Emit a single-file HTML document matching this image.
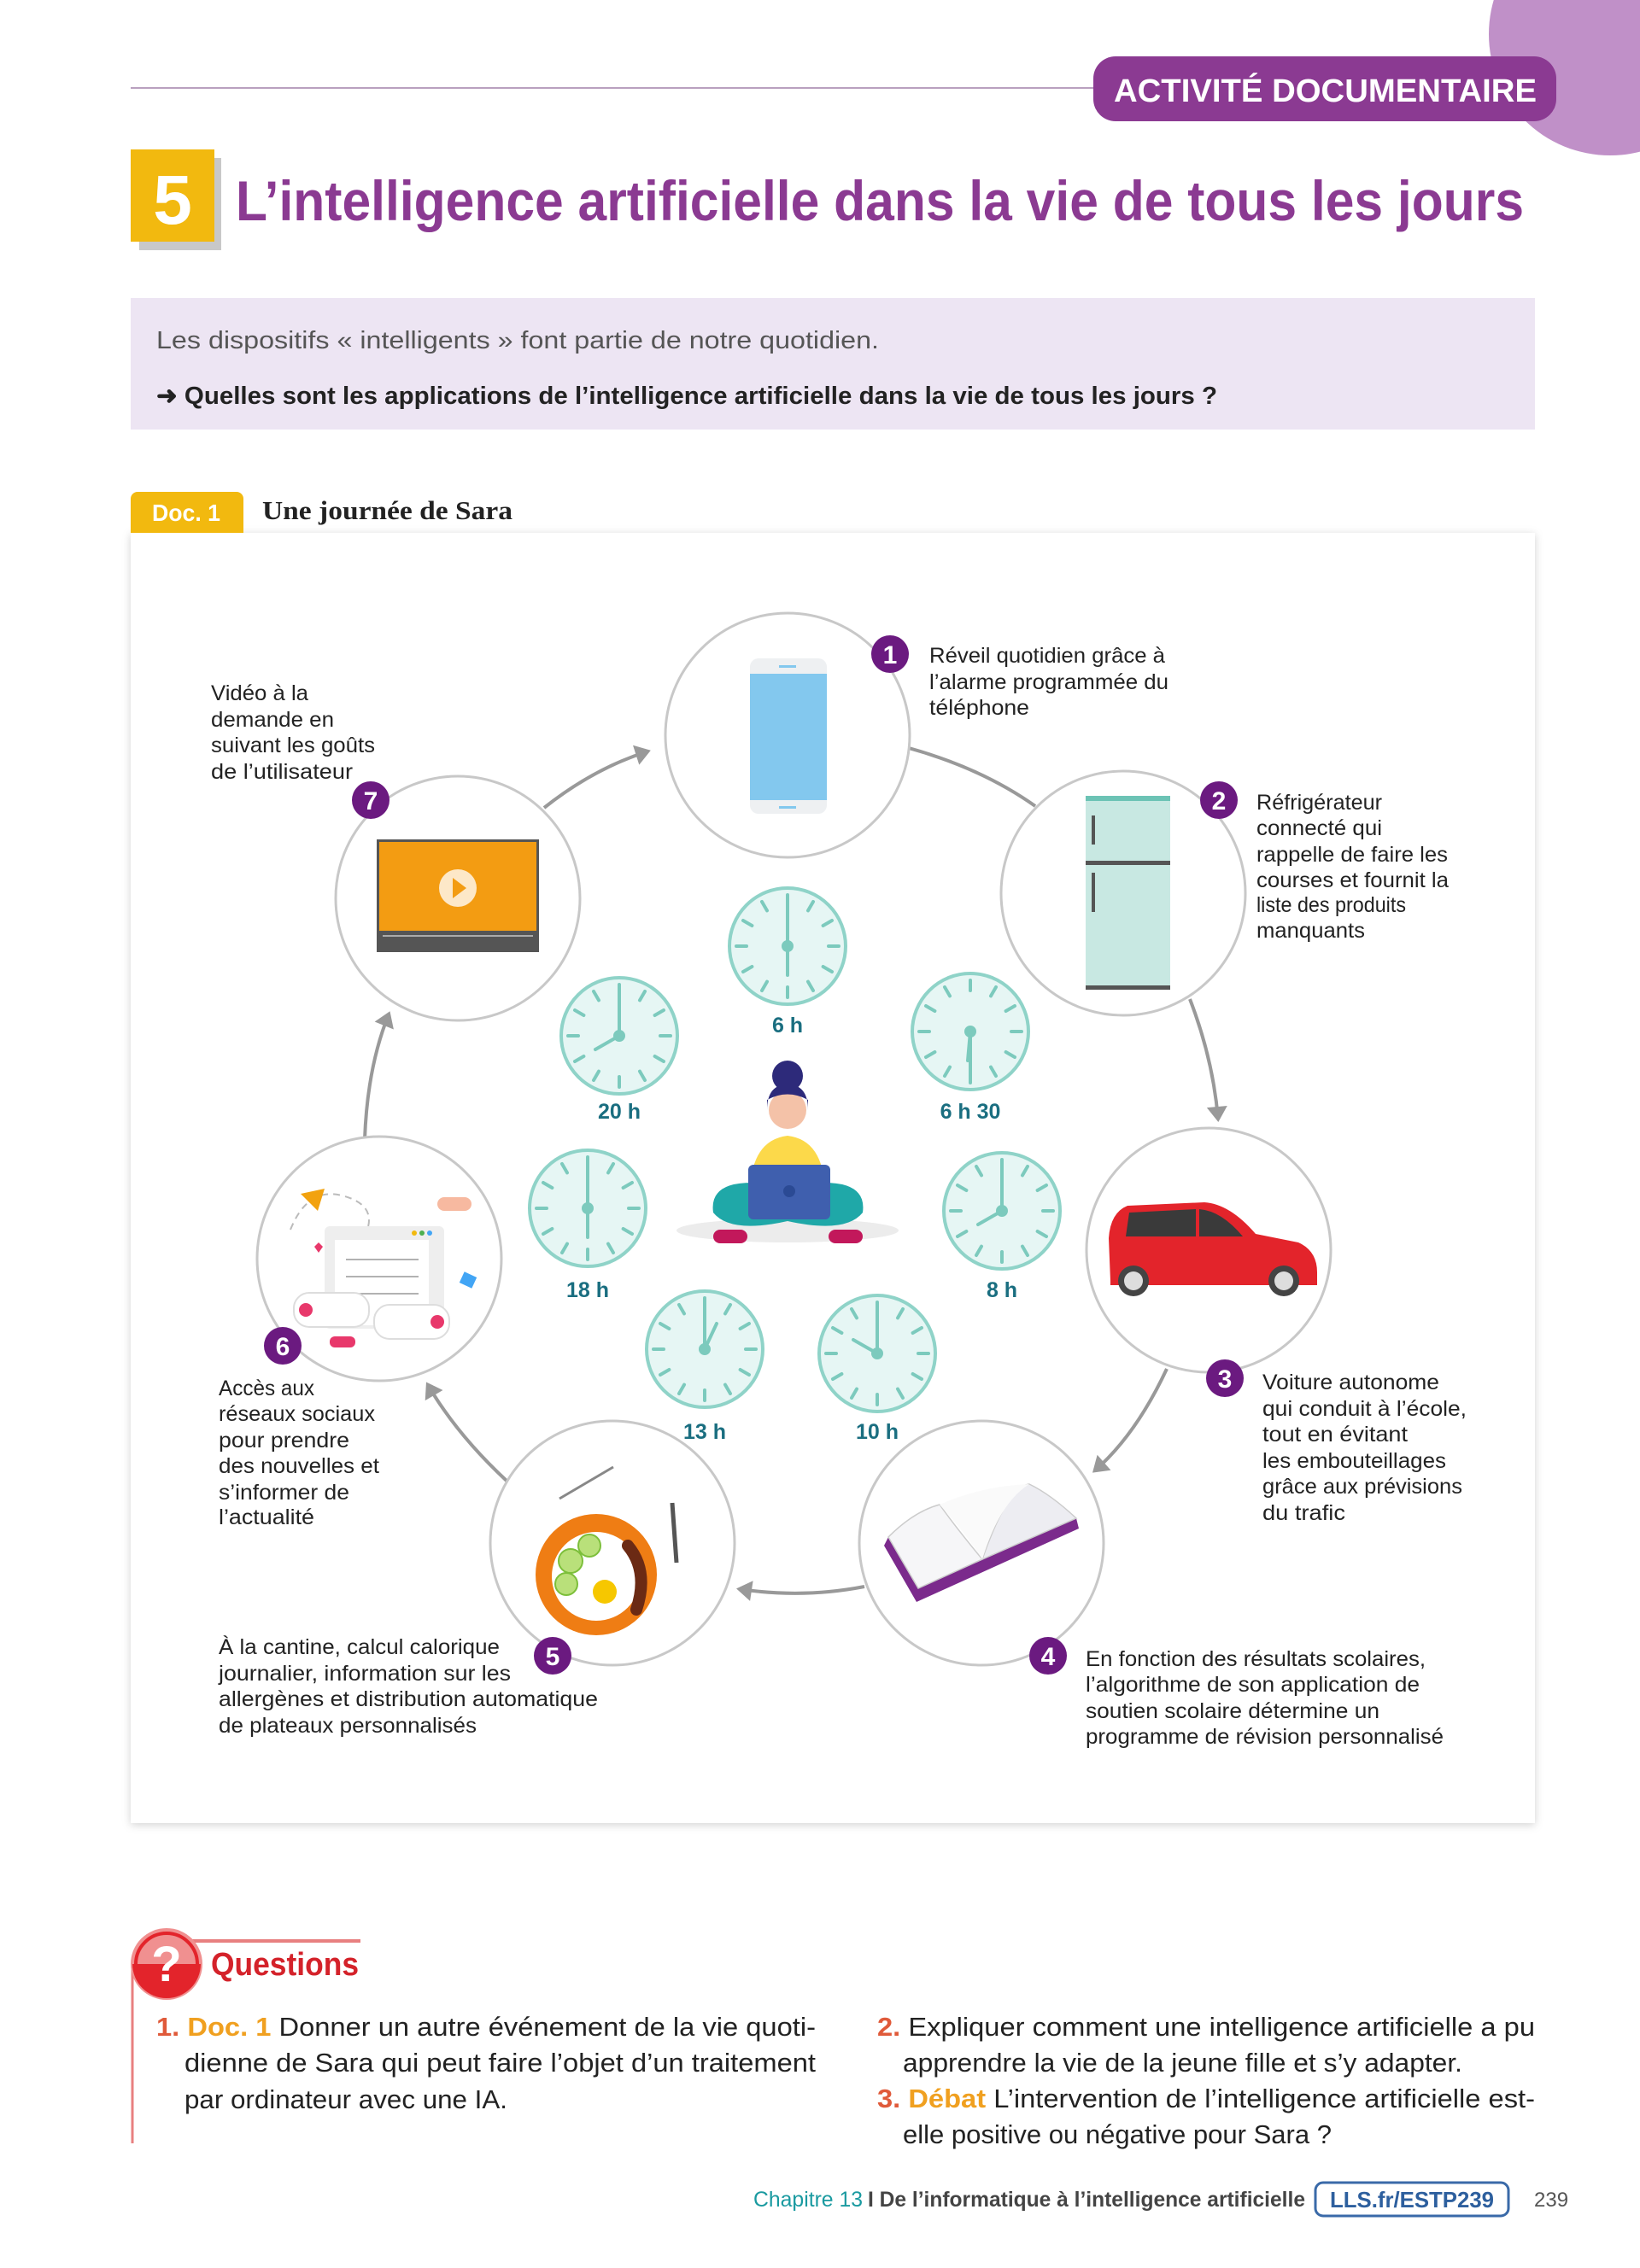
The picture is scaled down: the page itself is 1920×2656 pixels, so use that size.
<!DOCTYPE html>
<html><head><meta charset="utf-8"><style>
html,body{margin:0;padding:0;background:#fff;}
svg{display:block;}
text{font-family:"Liberation Sans",sans-serif;}
</style></head><body>
<svg width="1920" height="2656" viewBox="0 0 1920 2656" xmlns="http://www.w3.org/2000/svg">
<defs>
<marker id="ah" markerWidth="10" markerHeight="10" refX="6" refY="5" orient="auto" markerUnits="userSpaceOnUse" viewBox="0 0 10 10" style="overflow:visible">
<path d="M-8,-7 L10,5 L-8,17 Z" fill="#999"/>
</marker>
<filter id="sh" x="-5%" y="-5%" width="110%" height="110%"><feDropShadow dx="0" dy="2" stdDeviation="5" flood-color="#000" flood-opacity="0.18"/></filter>
<g id="face">
<circle r="68" fill="#e6f6f4" stroke="#8fd3c8" stroke-width="4"/>
<g stroke="#7ccabd" stroke-width="4" stroke-linecap="round">
<line x1="24" y1="-41.6" x2="30" y2="-52"/><line x1="41.6" y1="-24" x2="52" y2="-30"/>
<line x1="48" y1="0" x2="60" y2="0"/><line x1="41.6" y1="24" x2="52" y2="30"/>
<line x1="24" y1="41.6" x2="30" y2="52"/><line x1="0" y1="48" x2="0" y2="60"/>
<line x1="-24" y1="41.6" x2="-30" y2="52"/><line x1="-41.6" y1="24" x2="-52" y2="30"/>
<line x1="-48" y1="0" x2="-60" y2="0"/><line x1="-41.6" y1="-24" x2="-52" y2="-30"/>
<line x1="-24" y1="-41.6" x2="-30" y2="-52"/><line x1="0" y1="-48" x2="0" y2="-60"/>
</g>
</g>
</defs>

<!-- header -->
<circle cx="1885" cy="40" r="142" fill="#c090c8"/>
<line x1="153" y1="103" x2="1290" y2="103" stroke="#b9a0bf" stroke-width="2"/>
<rect x="1280" y="66" width="542" height="76" rx="26" fill="#8b3a92"/>
<text x="1304" y="119" font-size="38" font-weight="bold" fill="#fff" textLength="495" lengthAdjust="spacingAndGlyphs">ACTIVITÉ DOCUMENTAIRE</text>

<rect x="163" y="185" width="96" height="108" fill="#c8c8c8"/>
<rect x="153" y="175" width="98" height="108" fill="#f2b90f"/>
<text x="202" y="262" font-size="82" font-weight="bold" fill="#fff" text-anchor="middle">5</text>
<text x="276" y="258" font-size="66" font-weight="bold" fill="#8b3a92" textLength="1508" lengthAdjust="spacingAndGlyphs">L’intelligence artificielle dans la vie de tous les jours</text>

<rect x="153" y="349" width="1644" height="154" fill="#ede5f3"/>
<text x="183" y="408" font-size="29" fill="#555" textLength="846" lengthAdjust="spacingAndGlyphs">Les dispositifs « intelligents » font partie de notre quotidien.</text>
<text x="183" y="473" font-size="29" font-weight="bold" fill="#222" textLength="1242" lengthAdjust="spacingAndGlyphs">➜  Quelles sont les applications de l’intelligence artificielle dans la vie de tous les jours ?</text>

<!-- doc card -->
<rect x="153" y="624" width="1644" height="1511" fill="#fff" filter="url(#sh)"/>
<rect x="153" y="576" width="132" height="48" rx="8" fill="#f2b90f"/>
<rect x="153" y="600" width="132" height="24" fill="#f2b90f"/>
<text x="178" y="610" font-size="28" font-weight="bold" fill="#fff" textLength="80" lengthAdjust="spacingAndGlyphs">Doc. 1</text>
<text x="307" y="608" font-size="31" font-weight="bold" fill="#222" style="font-family:'Liberation Serif',serif" textLength="293" lengthAdjust="spacingAndGlyphs">Une journée de Sara</text>

<!-- arrows -->
<g fill="none" stroke="#999" stroke-width="4">
<path d="M637 946 Q695 900 758 880" marker-end="url(#ah)"/>
<path d="M1064 876 Q1150 900 1212 944"/>
<path d="M1393 1170 Q1420 1240 1426 1310" marker-end="url(#ah)"/>
<path d="M1366 1603 Q1330 1680 1282 1722" marker-end="url(#ah)"/>
<path d="M1012 1858 Q940 1872 866 1861" marker-end="url(#ah)"/>
<path d="M593 1734 Q535 1680 501 1622" marker-end="url(#ah)"/>
<path d="M427 1334 Q430 1250 455 1188" marker-end="url(#ah)"/>
</g>

<!-- big circles -->
<g fill="#fff" stroke="#c8c8c8" stroke-width="3">
<circle cx="922" cy="861" r="143"/>
<circle cx="1315" cy="1046" r="143"/>
<circle cx="1415" cy="1464" r="143"/>
<circle cx="1149" cy="1807" r="143"/>
<circle cx="717" cy="1807" r="143"/>
<circle cx="444" cy="1474" r="143"/>
<circle cx="536" cy="1052" r="143"/>
</g>

<!-- phone -->
<rect x="878" y="771" width="90" height="182" rx="10" fill="#eef0f2"/>
<rect x="878" y="789" width="90" height="148" fill="#83c8ee"/>
<rect x="912" y="779" width="20" height="3" fill="#83c8ee"/>
<rect x="912" y="944" width="20" height="3" fill="#83c8ee"/>
<!-- fridge -->
<rect x="1271" y="932" width="99" height="226" fill="#c8e8e2"/>
<rect x="1271" y="932" width="99" height="6" fill="#6cc3b5"/>
<rect x="1271" y="1008" width="99" height="5" fill="#555"/>
<rect x="1271" y="1154" width="99" height="5" fill="#555"/>
<rect x="1278" y="955" width="4" height="34" fill="#555"/>
<rect x="1278" y="1022" width="4" height="46" fill="#555"/>
<!-- video -->
<rect x="441" y="983" width="190" height="132" fill="#555"/>
<rect x="444" y="986" width="184" height="104" fill="#f39c12"/>
<circle cx="536" cy="1040" r="22" fill="#fde8c8"/>
<path d="M530 1028 L546 1040 L530 1052 Z" fill="#f39c12"/>
<line x1="448" y1="1096" x2="624" y2="1096" stroke="#aaa" stroke-width="2"/>
<!-- car -->
<path d="M1300 1500 L1298 1450 Q1300 1420 1320 1412 L1410 1408 Q1440 1410 1470 1445 L1520 1455 Q1542 1465 1542 1490 L1542 1505 L1300 1505 Z" fill="#e3242b"/>
<path d="M1322 1420 L1400 1416 L1400 1448 L1318 1448 Z" fill="#3a3a3a"/>
<path d="M1404 1416 Q1430 1418 1455 1448 L1404 1448 Z" fill="#3a3a3a"/>
<circle cx="1327" cy="1500" r="18" fill="#444"/><circle cx="1327" cy="1500" r="11" fill="#ddd"/>
<circle cx="1503" cy="1500" r="18" fill="#444"/><circle cx="1503" cy="1500" r="11" fill="#ddd"/>
<!-- book -->
<path d="M1035 1810 L1073 1876 L1263 1790 L1260 1778 L1075 1860 L1040 1800 Z" fill="#7b2a8c"/>
<path d="M1040 1800 L1075 1860 L1150 1826 Q1120 1790 1100 1762 Q1070 1770 1040 1800 Z" fill="#f6f6f8" stroke="#ccc" stroke-width="1.5"/>
<path d="M1150 1826 L1260 1778 Q1230 1750 1205 1738 Q1180 1740 1150 1826 Z" fill="#ededf2" stroke="#ccc" stroke-width="1.5"/>
<path d="M1100 1762 Q1130 1795 1150 1826 Q1170 1760 1205 1738 Q1150 1740 1100 1762 Z" fill="#fafafa"/>
<!-- food -->
<circle cx="698" cy="1844" r="71" fill="#ef7d14"/>
<circle cx="698" cy="1846" r="52" fill="#fff"/>
<circle cx="708" cy="1864" r="14" fill="#f6c700"/>
<path d="M735 1810 Q760 1840 745 1885" stroke="#6b2a14" stroke-width="14" fill="none" stroke-linecap="round"/>
<circle cx="668" cy="1828" r="14" fill="#b9e07a" stroke="#7cbf3a" stroke-width="2"/>
<circle cx="690" cy="1810" r="13" fill="#b9e07a" stroke="#7cbf3a" stroke-width="2"/>
<circle cx="663" cy="1855" r="13" fill="#b9e07a" stroke="#7cbf3a" stroke-width="2"/>
<line x1="655" y1="1755" x2="718" y2="1718" stroke="#888" stroke-width="3"/>
<line x1="787" y1="1760" x2="792" y2="1830" stroke="#555" stroke-width="5"/>
<!-- social -->
<path d="M340 1440 Q360 1390 400 1400 Q440 1410 430 1440" fill="none" stroke="#bbb" stroke-width="2" stroke-dasharray="8 6"/>
<rect x="380" y="1436" width="140" height="120" rx="6" fill="#eee"/>
<rect x="392" y="1452" width="110" height="100" fill="#fff"/>
<circle cx="485" cy="1444" r="3" fill="#f2b90f"/><circle cx="494" cy="1444" r="3" fill="#4caf50"/><circle cx="503" cy="1444" r="3" fill="#42a5f5"/>
<g stroke="#999" stroke-width="1.5"><line x1="405" y1="1475" x2="490" y2="1475"/><line x1="405" y1="1495" x2="490" y2="1495"/><line x1="405" y1="1515" x2="490" y2="1515"/></g>
<rect x="344" y="1514" width="88" height="40" rx="18" fill="#fff" stroke="#ddd" stroke-width="2"/>
<circle cx="358" cy="1534" r="8" fill="#e8386b"/>
<rect x="438" y="1528" width="88" height="40" rx="18" fill="#fff" stroke="#ddd" stroke-width="2"/>
<circle cx="512" cy="1548" r="8" fill="#e8386b"/>
<path d="M352 1398 L380 1392 L372 1418 Z" fill="#f2a20f"/>
<rect x="512" y="1402" width="40" height="16" rx="8" fill="#f7b9a0"/>
<rect x="386" y="1565" width="30" height="13" rx="6" fill="#e8386b"/>
<path d="M368 1460 l5 -5 l5 5 l-5 7 z" fill="#e8386b"/>
<rect x="540" y="1492" width="16" height="14" fill="#42a5f5" transform="rotate(25 548 1499)"/>

<!-- number badges -->
<g fill="#6b1a80">
<circle cx="1042" cy="766" r="22"/><circle cx="1427" cy="937" r="22"/><circle cx="1434" cy="1614" r="22"/>
<circle cx="1227" cy="1939" r="22"/><circle cx="647" cy="1939" r="22"/><circle cx="331" cy="1576" r="22"/>
<circle cx="434" cy="937" r="22"/>
</g>
<g fill="#fff" font-size="30" font-weight="bold" text-anchor="middle">
<text x="1042" y="777">1</text><text x="1427" y="948">2</text><text x="1434" y="1625">3</text>
<text x="1227" y="1950">4</text><text x="647" y="1950">5</text><text x="331" y="1587">6</text><text x="434" y="948">7</text>
</g>

<!-- labels -->
<g font-size="25" fill="#222">
<text x="1088" y="776" textLength="276" lengthAdjust="spacingAndGlyphs">Réveil quotidien grâce à</text>
<text x="1088" y="807" textLength="280" lengthAdjust="spacingAndGlyphs">l’alarme programmée du</text>
<text x="1088" y="837" textLength="117" lengthAdjust="spacingAndGlyphs">téléphone</text>

<text x="1471" y="948" textLength="147" lengthAdjust="spacingAndGlyphs">Réfrigérateur</text>
<text x="1471" y="978" textLength="147" lengthAdjust="spacingAndGlyphs">connecté qui</text>
<text x="1471" y="1009" textLength="224" lengthAdjust="spacingAndGlyphs">rappelle de faire les</text>
<text x="1471" y="1039" textLength="225" lengthAdjust="spacingAndGlyphs">courses et fournit la</text>
<text x="1471" y="1068" textLength="175" lengthAdjust="spacingAndGlyphs">liste des produits</text>
<text x="1471" y="1098" textLength="127" lengthAdjust="spacingAndGlyphs">manquants</text>

<text x="1478" y="1627" textLength="207" lengthAdjust="spacingAndGlyphs">Voiture autonome</text>
<text x="1478" y="1658" textLength="239" lengthAdjust="spacingAndGlyphs">qui conduit à l’école,</text>
<text x="1478" y="1688" textLength="170" lengthAdjust="spacingAndGlyphs">tout en évitant</text>
<text x="1478" y="1719" textLength="215" lengthAdjust="spacingAndGlyphs">les embouteillages</text>
<text x="1478" y="1749" textLength="234" lengthAdjust="spacingAndGlyphs">grâce aux prévisions</text>
<text x="1478" y="1780" textLength="97" lengthAdjust="spacingAndGlyphs">du trafic</text>

<text x="1271" y="1951" textLength="398" lengthAdjust="spacingAndGlyphs">En fonction des résultats scolaires,</text>
<text x="1271" y="1981" textLength="391" lengthAdjust="spacingAndGlyphs">l’algorithme de son application de</text>
<text x="1271" y="2012" textLength="344" lengthAdjust="spacingAndGlyphs">soutien scolaire détermine un</text>
<text x="1271" y="2042" textLength="419" lengthAdjust="spacingAndGlyphs">programme de révision personnalisé</text>

<text x="256" y="1937" textLength="329" lengthAdjust="spacingAndGlyphs">À la cantine, calcul calorique</text>
<text x="256" y="1968" textLength="342" lengthAdjust="spacingAndGlyphs">journalier, information sur les</text>
<text x="256" y="1998" textLength="444" lengthAdjust="spacingAndGlyphs">allergènes et distribution automatique</text>
<text x="256" y="2029" textLength="302" lengthAdjust="spacingAndGlyphs">de plateaux personnalisés</text>

<text x="256" y="1634" textLength="112" lengthAdjust="spacingAndGlyphs">Accès aux</text>
<text x="256" y="1664" textLength="183" lengthAdjust="spacingAndGlyphs">réseaux sociaux</text>
<text x="256" y="1695" textLength="153" lengthAdjust="spacingAndGlyphs">pour prendre</text>
<text x="256" y="1725" textLength="188" lengthAdjust="spacingAndGlyphs">des nouvelles et</text>
<text x="256" y="1756" textLength="153" lengthAdjust="spacingAndGlyphs">s’informer de</text>
<text x="256" y="1785" textLength="112" lengthAdjust="spacingAndGlyphs">l’actualité</text>

<text x="247" y="820" textLength="114" lengthAdjust="spacingAndGlyphs">Vidéo à la</text>
<text x="247" y="851" textLength="144" lengthAdjust="spacingAndGlyphs">demande en</text>
<text x="247" y="881" textLength="192" lengthAdjust="spacingAndGlyphs">suivant les goûts</text>
<text x="247" y="912" textLength="166" lengthAdjust="spacingAndGlyphs">de l’utilisateur</text>
</g>

<!-- clocks -->
<g stroke="#7ccabd" stroke-width="4" stroke-linecap="round">
<g transform="translate(922,1108)"><use href="#face"/><line x1="0" y1="0" x2="0" y2="-54"/><line x1="0" y1="0" x2="0" y2="34"/><circle r="5" fill="#7ccabd"/></g>
<g transform="translate(1136,1208)"><use href="#face"/><line x1="0" y1="0" x2="0" y2="54"/><line x1="0" y1="0" x2="-3" y2="34"/><circle r="5" fill="#7ccabd"/></g>
<g transform="translate(725,1213)"><use href="#face"/><line x1="0" y1="0" x2="0" y2="-54"/><line x1="0" y1="0" x2="-28" y2="16"/><circle r="5" fill="#7ccabd"/></g>
<g transform="translate(688,1415)"><use href="#face"/><line x1="0" y1="0" x2="0" y2="-54"/><line x1="0" y1="0" x2="0" y2="34"/><circle r="5" fill="#7ccabd"/></g>
<g transform="translate(1173,1418)"><use href="#face"/><line x1="0" y1="0" x2="0" y2="-54"/><line x1="0" y1="0" x2="-28" y2="16"/><circle r="5" fill="#7ccabd"/></g>
<g transform="translate(825,1580)"><use href="#face"/><line x1="0" y1="0" x2="0" y2="-54"/><line x1="0" y1="0" x2="14" y2="-30"/><circle r="5" fill="#7ccabd"/></g>
<g transform="translate(1027,1585)"><use href="#face"/><line x1="0" y1="0" x2="0" y2="-54"/><line x1="0" y1="0" x2="-28" y2="-16"/><circle r="5" fill="#7ccabd"/></g>
</g>
<g fill="#1a6e80" font-size="25" font-weight="bold" text-anchor="middle">
<text x="922" y="1209">6 h</text><text x="1136" y="1310">6 h 30</text><text x="725" y="1310">20 h</text>
<text x="688" y="1519">18 h</text><text x="1173" y="1519">8 h</text><text x="825" y="1685">13 h</text><text x="1027" y="1685">10 h</text>
</g>

<!-- girl -->
<ellipse cx="922" cy="1441" rx="130" ry="14" fill="#ececec"/>
<path d="M835 1420 Q830 1385 880 1385 L965 1385 Q1015 1385 1010 1420 Q990 1445 922 1430 Q855 1445 835 1420 Z" fill="#1fa8a8"/>
<rect x="835" y="1440" width="40" height="16" rx="8" fill="#c2185b"/>
<rect x="970" y="1440" width="40" height="16" rx="8" fill="#c2185b"/>
<path d="M878 1395 Q880 1335 922 1330 Q964 1335 966 1395 Z" fill="#fcd94a"/>
<circle cx="922" cy="1300" r="22" fill="#f4c2a8"/>
<path d="M898 1300 Q898 1270 922 1270 Q946 1270 946 1300 L946 1288 Q922 1275 898 1288 Z" fill="#2d2a7a"/>
<circle cx="922" cy="1260" r="18" fill="#2d2a7a"/>
<rect x="876" y="1364" width="96" height="64" rx="6" fill="#3f5fae"/>
<circle cx="924" cy="1395" r="7" fill="#2b4a94"/>

<!-- questions -->
<line x1="195" y1="2273" x2="422" y2="2273" stroke="#e88080" stroke-width="4"/>
<line x1="155" y1="2300" x2="155" y2="2510" stroke="#e88080" stroke-width="3"/>
<circle cx="195" cy="2300" r="42" fill="#f09090"/>
<path d="M155 2300 A40 40 0 0 0 235 2300 Z" fill="#e3242b"/>
<circle cx="195" cy="2300" r="36" fill="none" stroke="#e3242b" stroke-width="4"/>
<text x="195" y="2320" font-size="58" font-weight="bold" fill="#fff" text-anchor="middle">?</text>
<text x="247" y="2313" font-size="38" font-weight="bold" fill="#d4222a" textLength="173" lengthAdjust="spacingAndGlyphs">Questions</text>

<g font-size="31" fill="#222">
<text x="183" y="2384" textLength="772" lengthAdjust="spacingAndGlyphs"><tspan fill="#e05a3a" font-weight="bold">1.</tspan> <tspan fill="#f0a020" font-weight="bold">Doc. 1</tspan> Donner un autre événement de la vie quoti-</text>
<text x="216" y="2426" textLength="739" lengthAdjust="spacingAndGlyphs">dienne de Sara qui peut faire l’objet d’un traitement</text>
<text x="216" y="2469" textLength="378" lengthAdjust="spacingAndGlyphs">par ordinateur avec une IA.</text>
<text x="1027" y="2384" textLength="770" lengthAdjust="spacingAndGlyphs"><tspan fill="#e05a3a" font-weight="bold">2.</tspan> Expliquer comment une intelligence artificielle a pu</text>
<text x="1057" y="2426" textLength="655" lengthAdjust="spacingAndGlyphs">apprendre la vie de la jeune fille et s’y adapter.</text>
<text x="1027" y="2468" textLength="770" lengthAdjust="spacingAndGlyphs"><tspan fill="#e05a3a" font-weight="bold">3.</tspan> <tspan fill="#f0a020" font-weight="bold">Débat</tspan> L’intervention de l’intelligence artificielle est-</text>
<text x="1057" y="2510" textLength="502" lengthAdjust="spacingAndGlyphs">elle positive ou négative pour Sara ?</text>
</g>

<!-- footer -->
<text x="882" y="2584" font-size="25" fill="#1a9aa0" textLength="128" lengthAdjust="spacingAndGlyphs">Chapitre 13</text>
<text x="1016" y="2584" font-size="25" font-weight="bold" fill="#444" textLength="512" lengthAdjust="spacingAndGlyphs">I De l’informatique à l’intelligence artificielle</text>
<rect x="1540" y="2556" width="226" height="39" rx="9" fill="#fff" stroke="#3a6aa8" stroke-width="3"/>
<text x="1653" y="2585" font-size="26" font-weight="bold" fill="#2d5f9e" text-anchor="middle" textLength="192" lengthAdjust="spacingAndGlyphs">LLS.fr/ESTP239</text>
<text x="1796" y="2584" font-size="24" fill="#555">239</text>
</svg>
</body></html>
